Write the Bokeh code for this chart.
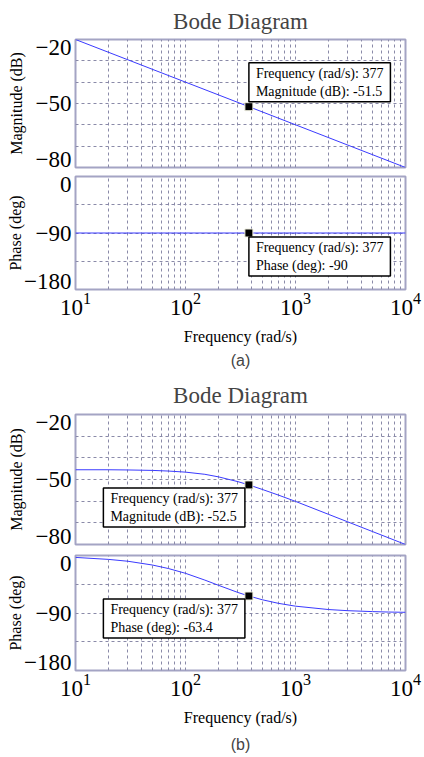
from bokeh.plotting import figure
from bokeh.models import Range1d, FixedTicker, LogTickFormatter, Label, Title, Grid
from bokeh.layouts import column
from bokeh.embed import file_html
from bokeh.resources import INLINE

# ---------------- data ----------------
freq_ticks = [10, 100, 1000, 10000]
freq_grid = [10, 20, 30, 40, 50, 60, 70, 80, 90,
             100, 200, 300, 400, 500, 600, 700, 800, 900,
             1000, 2000, 3000, 4000, 5000, 6000, 7000, 8000, 9000, 10000]
mag_ticks = [-80, -50, -20]
mag_tick_labels = ["\u221280", "\u221250", "\u221220"]
mag_grid = [-80, -70, -60, -50, -40, -30, -20]
phase_ticks = [-180, -90, 0]
phase_tick_labels = ["\u2212180", "\u221290", "0"]
phase_grid = [-180, -135, -90, -45, 0]

# (a)
freq_a = [10, 377, 10000]
mag_a = [-20.0, -51.5, -80.0]
phase_a = [-90.0, -90.0, -90.0]
marker_freq = 377
marker_mag_a = -51.5
marker_phase_a = -90.0

# (b)
freq_b = [10, 20, 30, 50, 70, 100, 150, 200, 300, 377, 500, 700,
          1000, 2000, 3000, 5000, 7000, 10000]
mag_b = [-45.5, -45.5, -45.6, -45.8, -46.1, -46.6, -47.6, -48.8, -51.0, -52.5,
         -54.6, -57.2, -60.1, -66.1, -69.6, -74.0, -76.9, -80.0]
phase_b = [-3.0, -6.1, -9.0, -14.9, -20.4, -27.9, -38.5, -46.7, -57.9, -63.4,
           -69.3, -74.9, -79.3, -84.6, -86.4, -87.8, -88.5, -88.9]
marker_mag_b = -52.5
marker_phase_b = -63.4

SERIF = "Liberation Serif"
SANS = "Liberation Sans"
FRAME = "#a4a4c4"
GRID = "#8a8aa8"
LINE = "#3a3aff"
W = 424
TICK_FS = "23px"
EDGE_PX = 7.8   # as in the reference, edge tick labels sit inside the frame height


def make_fig(height, yr, yticks, ylabels, ygrid, ylabel, left, right, top, bottom,
             ylabel_standoff, show_x=False, title=None, title_standoff=8):
    kw = {}
    if title:
        kw["title"] = title
    p = figure(width=W, height=height, x_axis_type="log",
               x_range=Range1d(10, 10000), y_range=Range1d(*yr),
               x_axis_location="below" if show_x else None,
               output_backend="svg", toolbar_location=None,
               min_border_left=left, min_border_right=right,
               min_border_top=top, min_border_bottom=bottom, **kw)
    p.background_fill_color = "white"
    p.border_fill_color = "white"
    p.outline_line_color = FRAME
    p.outline_line_width = 2
    p.grid.visible = False
    p.add_layout(Grid(dimension=0, ticker=FixedTicker(ticks=freq_grid),
                      grid_line_color=GRID, grid_line_dash="3 3", grid_line_width=1))
    p.add_layout(Grid(dimension=1, ticker=FixedTicker(ticks=ygrid),
                      grid_line_color=GRID, grid_line_dash="3 3", grid_line_width=1))
    # label anchor positions: edge labels nudged inward so they stay within the frame height
    frame_h = height - top - bottom
    nudge = EDGE_PX * (yr[1] - yr[0]) / frame_h
    pos = [yticks[0] + nudge, yticks[1], yticks[2] - nudge]
    ya = p.yaxis[0]
    ya.ticker = FixedTicker(ticks=pos)
    ya.major_label_overrides = {float(t): l for t, l in zip(pos, ylabels)}
    ya.axis_label = ylabel
    ya.axis_label_text_font = SERIF
    ya.axis_label_text_font_style = "normal"
    ya.axis_label_text_font_size = "16px"
    ya.axis_label_text_color = "black"
    ya.axis_label_standoff = ylabel_standoff
    ya.major_label_text_font = SERIF
    ya.major_label_text_font_size = TICK_FS
    ya.major_label_text_color = "black"
    ya.major_label_standoff = 4
    ya.axis_line_color = None
    ya.major_tick_line_color = None
    ya.minor_tick_line_color = None
    ya.major_tick_out = 0
    ya.major_tick_in = 0
    ya.minor_tick_out = 0
    ya.minor_tick_in = 0
    if show_x:
        xa = p.xaxis[0]
        xa.ticker = FixedTicker(ticks=freq_ticks)
        xa.formatter = LogTickFormatter()
        xa.major_label_text_font = SERIF
        xa.major_label_text_font_size = TICK_FS
        xa.major_label_text_color = "black"
        xa.major_label_standoff = 3
        xa.axis_label = "Frequency (rad/s)"
        xa.axis_label_text_font = SERIF
        xa.axis_label_text_font_style = "normal"
        xa.axis_label_text_font_size = "16px"
        xa.axis_label_text_color = "black"
        xa.axis_label_standoff = 10
        xa.axis_line_color = None
        xa.major_tick_line_color = None
        xa.minor_tick_line_color = None
        xa.major_tick_out = 0
        xa.major_tick_in = 0
        xa.minor_tick_out = 0
        xa.minor_tick_in = 0
    if title:
        p.title.text_font = SERIF
        p.title.text_font_size = "23px"
        p.title.text_font_style = "normal"
        p.title.align = "center"
        p.title.standoff = title_standoff
    return p


def box(p, x, y, text, anchor, dx, dy):
    p.add_layout(Label(x=x, y=y, x_offset=dx, y_offset=dy, text=text, anchor=anchor,
                       text_font=SERIF, text_font_size="14px", text_color="black",
                       text_line_height=1.2,
                       background_fill_color="white", background_fill_alpha=1.0,
                       border_line_color="black", border_line_width=1.5,
                       padding=dict(left=7, right=7, top=3, bottom=3)))


def marker(p, x, y):
    p.scatter([x], [y], marker="square", size=8, fill_color="black",
              line_color="#f0f0e0", line_width=1)


def caption(p, text, standoff):
    p.add_layout(Title(text=text, align="center", text_font=SANS,
                       text_font_size="16px", text_font_style="normal",
                       standoff=standoff), "below")


# ---------- (a) magnitude ----------
pa1 = make_fig(171, (-80, -20), mag_ticks, mag_tick_labels, mag_grid,
               "Magnitude (dB)", 75, 19, 39, 4, 8, title="Bode Diagram",
               title_standoff=11)
pa1.line(freq_a, mag_a, line_color=LINE, line_width=1)
marker(pa1, marker_freq, marker_mag_a)
box(pa1, marker_freq, marker_mag_a,
    "Frequency (rad/s): 377\nMagnitude (dB): -51.5", "bottom_left", 0, 5)

# ---------- (a) phase ----------
pa2 = make_fig(201, (-180, 0), phase_ticks, phase_tick_labels, phase_grid,
               "Phase (deg)", 75, 19, 5, 83, -3, show_x=True)
pa2.line(freq_a, phase_a, line_color=LINE, line_width=1)
marker(pa2, marker_freq, marker_phase_a)
box(pa2, marker_freq, marker_phase_a,
    "Frequency (rad/s): 377\nPhase (deg): -90", "top_left", 0, -4)
caption(pa2, "(a)", 5)

# ---------- (b) magnitude ----------
pb1 = make_fig(177, (-80, -20), mag_ticks, mag_tick_labels, mag_grid,
               "Magnitude (dB)", 72, 17, 42, 5, 8, title="Bode Diagram",
               title_standoff=13)
pb1.line(freq_b, mag_b, line_color=LINE, line_width=1)
marker(pb1, marker_freq, marker_mag_b)
box(pb1, marker_freq, marker_mag_b,
    "Frequency (rad/s): 377\nMagnitude (dB): -52.5", "top_right", -4, -3)

# ---------- (b) phase ----------
pb2 = make_fig(208, (-180, 0), phase_ticks, phase_tick_labels, phase_grid,
               "Phase (deg)", 72, 17, 6, 87, -3, show_x=True)
pb2.line(freq_b, phase_b, line_color=LINE, line_width=1)
marker(pb2, marker_freq, marker_phase_b)
box(pb2, marker_freq, marker_phase_b,
    "Frequency (rad/s): 377\nPhase (deg): -63.4", "top_right", -4, -3)
caption(pb2, "(b)", 10)

layout = column(pa1, pa2, pb1, pb2, spacing=0)
open("out.html", "w").write(file_html(layout, INLINE))
